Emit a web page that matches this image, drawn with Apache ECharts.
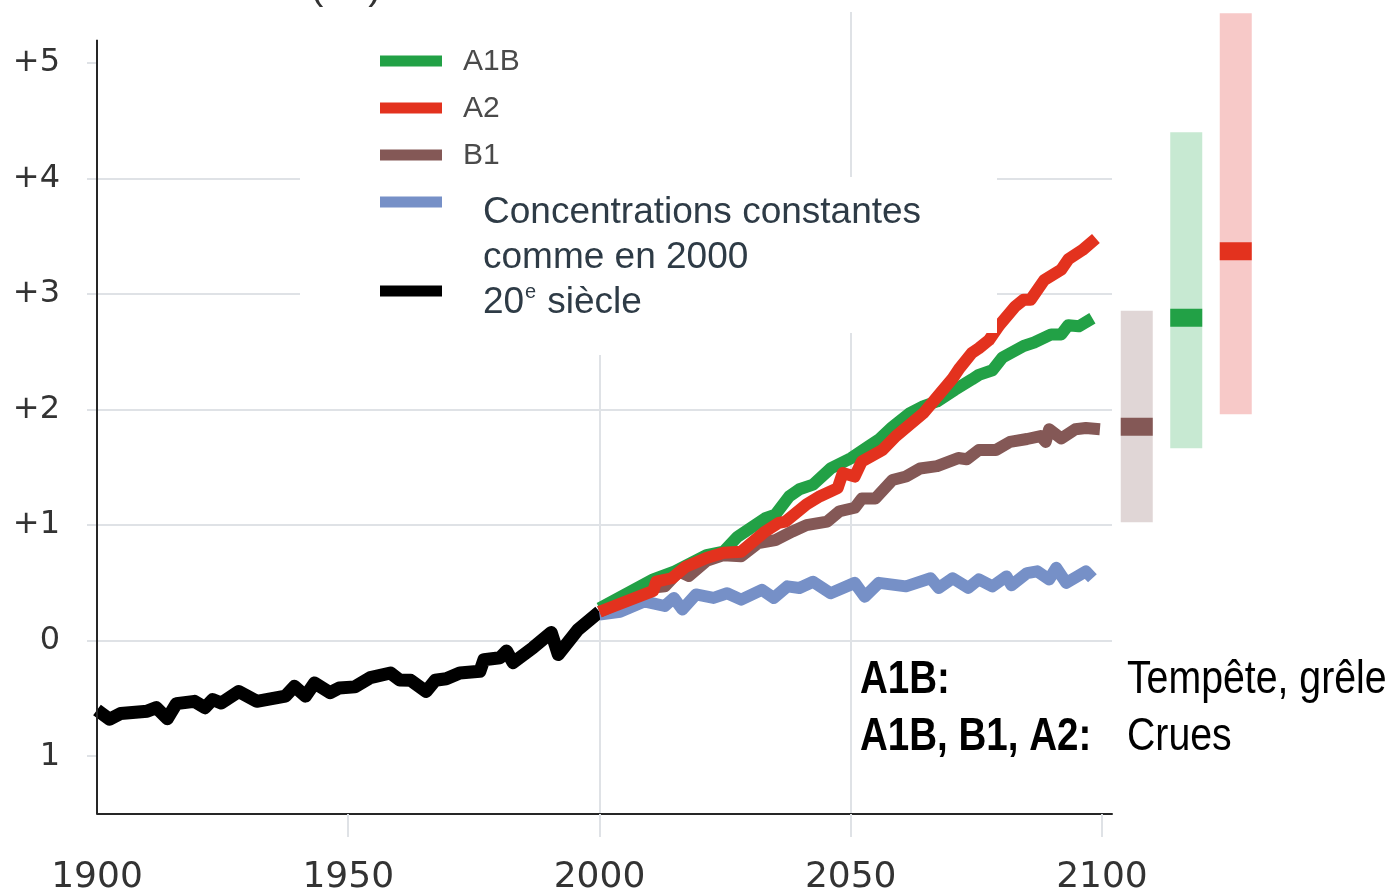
<!DOCTYPE html>
<html>
<head>
<meta charset="utf-8">
<script src="https://cdn.jsdelivr.net/npm/echarts@6/dist/echarts.min.js"></script>
<style>html,body{margin:0;padding:0;background:#fff}#c{width:1393px;height:892px}</style>
</head>
<body>
<div id="c"></div>
<script>
// ---- data ----
const histYears = [1900,1902.5,1904.7,1910,1911.8,1914,1915.8,1919.4,1921.5,1923,1924.7,1928.2,1931.8,1937.5,1939.3,1941.5,1943.3,1946.4,1948.2,1951.3,1954.4,1958.4,1960.2,1962.4,1965.5,1967.3,1969.5,1972.2,1976.2,1977,1980.2,1981.5,1982.8,1986.8,1990.4,1991.8,1995.7,2000];
const histValues = [-0.60,-0.68,-0.63,-0.61,-0.58,-0.675,-0.545,-0.525,-0.58,-0.51,-0.54,-0.44,-0.525,-0.48,-0.395,-0.48,-0.366,-0.45,-0.41,-0.40,-0.32,-0.28,-0.34,-0.343,-0.44,-0.343,-0.33,-0.28,-0.265,-0.165,-0.148,-0.09,-0.19,-0.06,0.07,-0.12,0.095,0.25];

const a2Years = [2000,2010.7,2011.3,2014.4,2017.2,2021.3,2024.7,2028.2,2033,2035.7,2037,2041.2,2043.9,2047.4,2048.4,2050.8,2052.2,2056.3,2059,2064.5,2067.2,2070.3,2071.7,2074.1,2075.5,2077.5,2079.6,2082.7,2084.4,2085.8,2088.5,2091.9,2093.3,2096.1,2098.8];
const a2Values = [0.25,0.43,0.51,0.54,0.64,0.715,0.76,0.77,0.945,1.02,1.03,1.18,1.25,1.32,1.45,1.42,1.55,1.65,1.77,1.97,2.11,2.27,2.36,2.49,2.53,2.60,2.73,2.89,2.95,2.95,3.12,3.21,3.30,3.38,3.48];

const a1bYears = [2000,2010.7,2015,2021.3,2024.7,2027.5,2033,2035,2037.8,2039.8,2042.5,2046,2050.1,2053.5,2055.6,2058.3,2061.8,2064.5,2067.2,2070.7,2074.1,2075.5,2078.2,2080.2,2084.4,2086.5,2089.9,2091.9,2093.3,2095.4,2098.1];
const a1bValues = [0.28,0.53,0.60,0.74,0.77,0.90,1.06,1.09,1.25,1.31,1.35,1.49,1.58,1.68,1.74,1.85,1.97,2.03,2.07,2.17,2.26,2.30,2.34,2.45,2.55,2.58,2.65,2.65,2.73,2.72,2.79];

const b1Years = [2000,2010.7,2013,2015.8,2017.8,2021.3,2024.7,2028.2,2031.6,2035,2038.4,2041.2,2045.3,2047.8,2050.8,2052.2,2054.9,2058.3,2061,2063.8,2067.2,2071.4,2073.1,2075.5,2078.9,2081.7,2085.1,2087.8,2088.8,2089.5,2091.9,2094.7,2096.8,2099.6];
const b1Values = [0.25,0.46,0.47,0.60,0.56,0.69,0.74,0.73,0.845,0.87,0.945,1.00,1.03,1.12,1.15,1.23,1.23,1.39,1.42,1.49,1.51,1.58,1.57,1.65,1.65,1.72,1.745,1.77,1.72,1.83,1.75,1.83,1.84,1.83];

const constYears = [2000,2004.1,2008.9,2013,2014.8,2016.5,2019.2,2022.7,2025.4,2028.2,2032.3,2034.7,2037.4,2039.8,2042.5,2046,2050.8,2052.8,2055.6,2061,2065.9,2067.5,2070.3,2073.4,2075.5,2078.2,2081,2082,2085.1,2087.1,2089.5,2090.9,2092.9,2096.8,2098.1];
const constValues = [0.225,0.25,0.34,0.30,0.37,0.27,0.40,0.37,0.41,0.355,0.44,0.37,0.47,0.456,0.51,0.41,0.50,0.38,0.50,0.47,0.54,0.456,0.54,0.456,0.53,0.47,0.556,0.48,0.585,0.60,0.53,0.63,0.50,0.60,0.54];

// ranges at 2100 (low, high, best estimate)
const rangeCats = ['B1','A1B','A2'];
const rangeLow  = [1.025, 1.665, 1.96];
const rangeHigh = [2.855, 4.40, 5.43];
const rangeMid  = [1.85, 2.795, 3.37];

const xTickLabels = [1900,1950,2000,2050,2100];
const yTickValues = [-1,0,1,2,3,4,5];
const yTickLabels = ['1','0','+1','+2','+3','+4','+5'];

const legendNames = ['A1B','A2','B1'];
const constLabel = ['Concentrations constantes','comme en 2000'];
const histLabel = ['20','e',' siècle'];
const noteKeys = ['A1B:','A1B, B1, A2:'];
const noteVals = ['Tempête, grêle','Crues'];
const titleFragment = '(°C)';

// ---- styles ----
const COL = {A1B:'#22a146', A2:'#e3321e', B1:'#845856', CONST:'#7690c7', HIST:'#000000'};
const LIGHT = {A1B:'#c7e9d2', A2:'#f7c9c8', B1:'#e0d6d6'};
const GRID_C = '#dfe2e6';
const AXIS_C = '#262626';
const TEXT_C = '#2e3b46';

const zip = (xs, ys) => xs.map((x, i) => [x, ys[i]]);
const YMIN = -1.5, YMAX = 5.44;

const chart = echarts.init(document.getElementById('c'), null, {renderer:'canvas'});

const graphics = [];
// white masks (legend background)
graphics.push({type:'rect', z:50, shape:{x:300, y:0, width:523, height:355}, style:{fill:'#fff'}});
graphics.push({type:'rect', z:50, shape:{x:823, y:177, width:174, height:156}, style:{fill:'#fff'}});
// legend lines
const legendRows = [61, 108, 155];
legendNames.forEach((n, i) => {
  graphics.push({type:'rect', z:60, shape:{x:380, y:legendRows[i]-5.5, width:62, height:11}, style:{fill:COL[n]}});
  graphics.push({type:'text', z:60, x:463, y:legendRows[i]+1, style:{text:n, fill:'#4a4a4a', font:'30px "Liberation Sans", Arial, sans-serif', align:'left', verticalAlign:'middle'}});
});
graphics.push({type:'rect', z:60, shape:{x:380, y:196.5, width:62, height:11}, style:{fill:COL.CONST}});
graphics.push({type:'rect', z:60, shape:{x:380, y:285.5, width:62, height:11}, style:{fill:COL.HIST}});
graphics.push({type:'text', z:60, x:483, y:213, style:{text:constLabel[0], fill:TEXT_C, font:'37px "Liberation Sans", Arial, sans-serif', align:'left', verticalAlign:'middle'}});
graphics.push({type:'text', z:60, x:483, y:258, style:{text:constLabel[1], fill:TEXT_C, font:'37px "Liberation Sans", Arial, sans-serif', align:'left', verticalAlign:'middle'}});
graphics.push({type:'text', z:60, x:483, y:303, style:{text:histLabel[0], fill:TEXT_C, font:'37px "Liberation Sans", Arial, sans-serif', align:'left', verticalAlign:'middle'}});
graphics.push({type:'text', z:60, x:525, y:292, style:{text:histLabel[1], fill:TEXT_C, font:'20px "Liberation Sans", Arial, sans-serif', align:'left', verticalAlign:'middle'}});
graphics.push({type:'text', z:60, x:537, y:303, style:{text:histLabel[2], fill:TEXT_C, font:'37px "Liberation Sans", Arial, sans-serif', align:'left', verticalAlign:'middle'}});
// notes bottom right
noteKeys.forEach((t, i) => {
  const cy = 680 + i*57;
  graphics.push({type:'text', z:60, x:860, y:cy, scaleX:0.82, style:{text:t, fill:'#000', font:'bold 47px "Liberation Sans", Arial, sans-serif', align:'left', verticalAlign:'middle'}});
  graphics.push({type:'text', z:60, x:1127, y:cy, scaleX:0.835, style:{text:noteVals[i], fill:'#000', font:'47px "Liberation Sans", Arial, sans-serif', align:'left', verticalAlign:'middle'}});
});
// cropped title fragment at the top edge
graphics.push({type:'text', z:60, x:310, y:-12, style:{text:titleFragment, fill:'#333', font:'40px "Liberation Sans", Arial, sans-serif', align:'left', verticalAlign:'middle'}});

const lineSeries = (name, xs, ys, color, width) => ({
  type:'line', name, xAxisIndex:0, yAxisIndex:0, data: zip(xs, ys),
  showSymbol:false, symbol:'none', smooth:false,
  lineStyle:{color, width, cap:'butt', join:'round'}, itemStyle:{color},
  silent:true, animation:false
});

const histSeries = lineSeries('20e siècle', histYears, histValues, COL.HIST, 13);
histSeries.clip = false;
histSeries.markLine = {
  silent:true, symbol:'none', animation:false, label:{show:false},
  lineStyle:{color:AXIS_C, width:2, type:'solid'},
  data:[[{coord:[1900, YMIN]}, {coord:[1900, 5.2]}]]
};

const option = {
  animation:false,
  backgroundColor:'#fff',
  grid:[
    {left:97, top:12, width:1015, height:802, outerBoundsMode:'none', containLabel:false},
    {left:1112, top:12, width:148.5, height:802, outerBoundsMode:'none', containLabel:false}
  ],
  xAxis:[
    {type:'value', gridIndex:0, min:1900, max:2102,
     axisLine:{show:true, onZero:false, lineStyle:{color:AXIS_C, width:2}},
     axisTick:{show:true, customValues:[1950,2000,2050,2100], length:23, lineStyle:{color:GRID_C, width:2}},
     axisLabel:{show:true, customValues:xTickLabels, margin:46, color:'#333', fontSize:36, fontFamily:'"DejaVu Sans", sans-serif',
       formatter:(v) => String(Math.round(v))},
     splitLine:{show:true, showMinLine:false, showMaxLine:false, lineStyle:{color:GRID_C, width:2}}},
    {type:'category', gridIndex:1, data:rangeCats, show:false}
  ],
  yAxis:[
    {type:'value', gridIndex:0, min:YMIN, max:YMAX,
     axisLine:{show:false, onZero:false},
     axisTick:{show:true, customValues:yTickValues, length:10, lineStyle:{color:GRID_C, width:2}},
     axisLabel:{show:true, customValues:yTickValues, margin:37, color:'#333', fontSize:32, fontFamily:'"DejaVu Sans", sans-serif',
       formatter:(v) => { const i = yTickValues.indexOf(Math.round(v)); return i >= 0 ? yTickLabels[i] : ''; }},
     splitLine:{show:true, showMinLine:false, showMaxLine:false, lineStyle:{color:GRID_C, width:2}}},
    {type:'value', gridIndex:1, min:YMIN, max:YMAX, show:false}
  ],
  series:[
    histSeries,
    lineSeries('Concentrations constantes comme en 2000', constYears, constValues, COL.CONST, 12),
    lineSeries('B1', b1Years, b1Values, COL.B1, 12),
    lineSeries('A1B', a1bYears, a1bValues, COL.A1B, 12),
    lineSeries('A2', a2Years, a2Values, COL.A2, 12),
    {
      type:'custom', name:'ranges', xAxisIndex:1, yAxisIndex:1, clip:false, silent:true,
      data: rangeCats.map((c, i) => [i, rangeLow[i], rangeHigh[i], rangeMid[i]]),
      encode:{x:0, y:[1,2,3]},
      renderItem:(params, api) => {
        const idx = api.value(0);
        const name = rangeCats[idx];
        const lo = api.coord([idx, api.value(1)]);
        const hi = api.coord([idx, api.value(2)]);
        const md = api.coord([idx, api.value(3)]);
        const w = 32, mh = 18;
        return {type:'group', children:[
          {type:'rect', shape:{x:lo[0]-w/2, y:hi[1], width:w, height:lo[1]-hi[1]}, style:{fill:LIGHT[name]}},
          {type:'rect', shape:{x:lo[0]-w/2, y:md[1]-mh/2, width:w, height:mh}, style:{fill:COL[name]}}
        ]};
      }
    }
  ],
  graphic: graphics
};
chart.setOption(option);
</script>
</body>
</html>
